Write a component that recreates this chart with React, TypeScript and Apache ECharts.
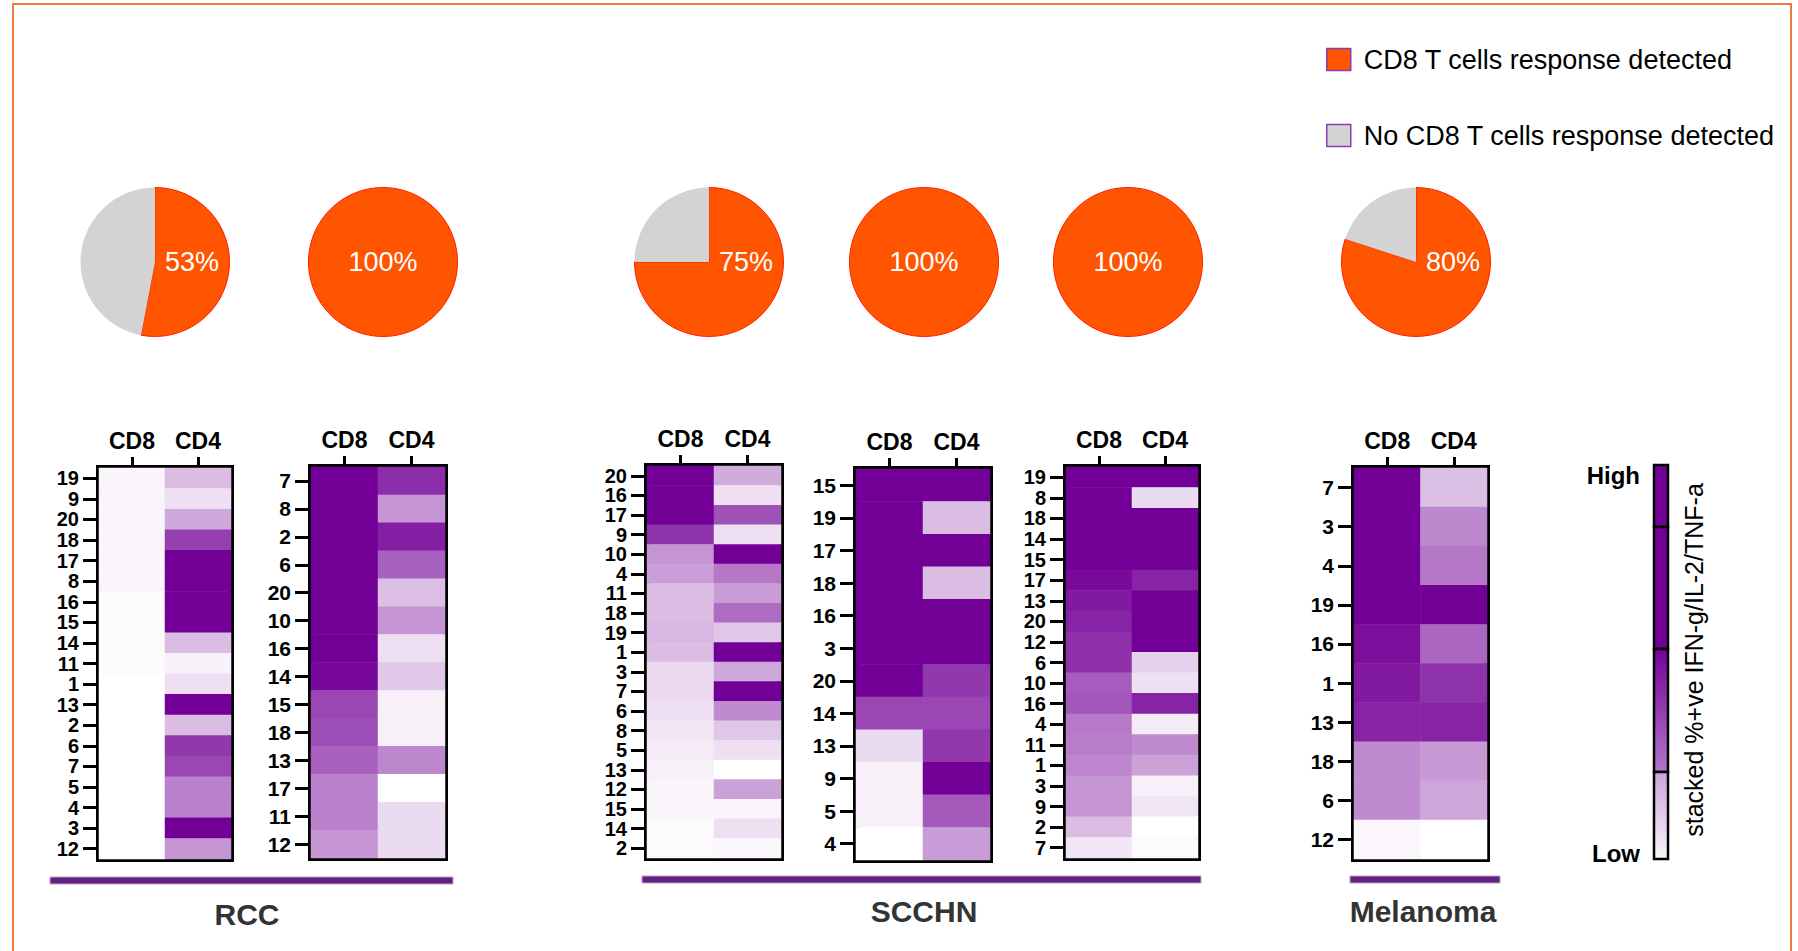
import React, { useEffect, useRef } from "react";
import * as echarts from "echarts";

// ---------- data ----------
const colCategories = ["CD8", "CD4"];

const rccALabels = ["19", "9", "20", "18", "17", "8", "16", "15", "14", "11", "1", "13", "2", "6", "7", "5", "4", "3", "12"];
const rccACD8 = [0.04, 0.04, 0.04, 0.04, 0.04, 0.04, 0.02, 0.02, 0.02, 0.02, 0, 0, 0, 0, 0, 0, 0, 0, 0];
const rccACD4 = [0.26, 0.12, 0.34, 0.75, 1, 1, 1, 1, 0.26, 0.05, 0.12, 1, 0.26, 0.78, 0.72, 0.5, 0.5, 1, 0.42];

const rccBLabels = ["7", "8", "2", "6", "20", "10", "16", "14", "15", "18", "13", "17", "11", "12"];
const rccBCD8 = [1, 1, 1, 1, 1, 1, 1, 0.97, 0.72, 0.7, 0.62, 0.5, 0.49, 0.41];
const rccBCD4 = [0.82, 0.41, 0.88, 0.62, 0.25, 0.41, 0.12, 0.22, 0.06, 0.06, 0.47, 0, 0.14, 0.14];

const scchnALabels = ["20", "16", "17", "9", "10", "4", "11", "18", "19", "1", "3", "7", "6", "8", "5", "13", "12", "15", "14", "2"];
const scchnACD8 = [1, 1, 1, 0.8, 0.42, 0.38, 0.26, 0.26, 0.28, 0.26, 0.15, 0.15, 0.12, 0.1, 0.08, 0.06, 0.04, 0.04, 0.02, 0.02];
const scchnACD4 = [0.33, 0.12, 0.68, 0.12, 1, 0.53, 0.39, 0.58, 0.22, 1, 0.34, 1, 0.46, 0.22, 0.12, 0, 0.37, 0.04, 0.12, 0.03];

const scchnBLabels = ["15", "19", "17", "18", "16", "3", "20", "14", "13", "9", "5", "4"];
const scchnBCD8 = [1, 1, 1, 1, 1, 1, 1, 0.72, 0.14, 0.06, 0.06, 0];
const scchnBCD4 = [1, 0.26, 1, 0.26, 1, 1, 0.78, 0.72, 0.78, 1, 0.65, 0.39];

const scchnCLabels = ["19", "8", "18", "14", "15", "17", "13", "20", "12", "6", "10", "16", "4", "11", "1", "3", "9", "2", "7"];
const scchnCCD8 = [1, 1, 1, 1, 1, 0.96, 0.9, 0.86, 0.81, 0.81, 0.64, 0.66, 0.52, 0.51, 0.48, 0.42, 0.42, 0.26, 0.1];
const scchnCCD4 = [1, 0.14, 1, 1, 1, 0.86, 1, 1, 1, 0.18, 0.12, 0.86, 0.08, 0.46, 0.37, 0.06, 0.1, 0, 0.02];

const melLabels = ["7", "3", "4", "19", "16", "1", "13", "18", "6", "12"];
const melCD8 = [1, 1, 1, 1, 0.94, 0.9, 0.86, 0.46, 0.46, 0.03];
const melCD4 = [0.25, 0.47, 0.53, 1, 0.6, 0.8, 0.86, 0.4, 0.35, 0];

const pieResponse = [53, 100, 75, 100, 100, 80];
const legendNames = ["CD8 T cells response detected", "No CD8 T cells response detected"];
const groupNames = ["RCC", "SCCHN", "Melanoma"];
const colorbarTitle = "stacked %+ve IFN-g/IL-2/TNF-a";

// ---------- layout ----------
const FONT = 'Arial, "Liberation Sans", Helvetica, sans-serif';

const panels = [
  { labels: rccALabels, cd8: rccACD8, cd4: rccACD4, grid: { left: 99, top: 468, width: 132, height: 391 }, fs: 20 },
  { labels: rccBLabels, cd8: rccBCD8, cd4: rccBCD4, grid: { left: 311, top: 467, width: 134, height: 391 }, fs: 21 },
  { labels: scchnALabels, cd8: scchnACD8, cd4: scchnACD4, grid: { left: 647, top: 466, width: 134, height: 392 }, fs: 20 },
  { labels: scchnBLabels, cd8: scchnBCD8, cd4: scchnBCD4, grid: { left: 856, top: 469, width: 134, height: 391 }, fs: 21 },
  { labels: scchnCLabels, cd8: scchnCCD8, cd4: scchnCCD4, grid: { left: 1066, top: 467, width: 132, height: 391 }, fs: 20 },
  { labels: melLabels, cd8: melCD8, cd4: melCD4, grid: { left: 1354, top: 468, width: 133, height: 391 }, fs: 21 },
];

const pieCentersX = [155, 383, 709, 924, 1128, 1416];
const pieCenterY = 262;
const pieRadius = 74.5;

const groupBars = [
  { x: 50, w: 403, y: 877, label: 247 },
  { x: 642, w: 559, y: 876, label: 924 },
  { x: 1350, w: 150, y: 876, label: 1423 },
];

function buildOption() {
  const grids = panels.map((p) => ({
    left: p.grid.left,
    top: p.grid.top,
    width: p.grid.width,
    height: p.grid.height,
    show: true,
    borderColor: "#000",
    borderWidth: 6,
    backgroundColor: "transparent",
    containLabel: false,
  }));

  const xAxes = panels.map((_, i) => ({
    type: "category",
    gridIndex: i,
    position: "top",
    data: colCategories,
    axisLine: { show: false },
    axisTick: { show: true, alignWithLabel: true, length: 11, lineStyle: { color: "#000", width: 3 } },
    axisLabel: { color: "#000", fontFamily: FONT, fontWeight: "bold", fontSize: 23, margin: 16 },
    splitLine: { show: false },
  }));

  const yAxes = panels.map((p, i) => ({
    type: "category",
    gridIndex: i,
    inverse: true,
    data: p.labels,
    axisLine: { show: false },
    axisTick: { show: true, alignWithLabel: true, length: 16, lineStyle: { color: "#000", width: 3 } },
    axisLabel: {
      color: "#000",
      fontFamily: FONT,
      fontWeight: "bold",
      fontSize: p.fs,
      lineHeight: Math.min(p.fs, 19),
      margin: 20,
      interval: 0,
    },
    splitLine: { show: false },
  }));

  const heatSeries = panels.map((p, i) => ({
    type: "heatmap",
    xAxisIndex: i,
    yAxisIndex: i,
    silent: true,
    data: p.labels.flatMap((_, r) => [
      [0, r, p.cd8[r]],
      [1, r, p.cd4[r]],
    ]),
  }));

  const pieSeries = pieResponse.map((pct, i) => ({
    type: "pie",
    center: [pieCentersX[i], pieCenterY],
    radius: pieRadius,
    startAngle: 90,
    clockwise: true,
    silent: true,
    avoidLabelOverlap: false,
    labelLine: { show: false },
    emphasis: { disabled: true },
    data: [
      {
        name: legendNames[0],
        value: pct,
        itemStyle: { color: "#ff5500", borderColor: "#ff1e00", borderWidth: 1 },
        label: {
          show: true,
          position: "center",
          formatter: "{c}%",
          color: "#ffffff",
          fontFamily: FONT,
          fontSize: 27,
          padding: pct < 100 ? [0, 0, 0, 74] : 0,
        },
      },
      {
        name: legendNames[1],
        value: 100 - pct,
        itemStyle: { color: "#d3d3d3", borderWidth: 0 },
        label: { show: false },
      },
    ],
  }));

  const graphics: any[] = [];
  // page frame
  graphics.push({
    type: "rect",
    silent: true,
    shape: { x: 13, y: 4, width: 1778, height: 1000 },
    style: { fill: "none", stroke: "#f07a3c", lineWidth: 2 },
  });
  // group bars and names
  groupBars.forEach((g, i) => {
    graphics.push({
      type: "rect",
      silent: true,
      shape: { x: g.x, y: g.y, width: g.w, height: 7 },
      style: { fill: "#63207e", stroke: "#bda3cb", lineWidth: 1 },
    });
    graphics.push({
      type: "text",
      silent: true,
      x: g.label,
      y: i === 0 ? 914 : 911,
      style: {
        text: groupNames[i],
        fill: "#333333",
        font: `bold 30px ${FONT}`,
        align: "center",
        verticalAlign: "middle",
      },
    });
  });
  // colorbar
  const cbX = 1654;
  const cbW = 14;
  const segs = [
    { y0: 465, y1: 527, fill: "#730096" as any },
    { y0: 527, y1: 649, fill: "#730096" as any },
    {
      y0: 649,
      y1: 772,
      fill: new echarts.graphic.LinearGradient(0, 0, 0, 1, [
        { offset: 0, color: "#750399" },
        { offset: 1, color: "#b277c8" },
      ]),
    },
    {
      y0: 772,
      y1: 859,
      fill: new echarts.graphic.LinearGradient(0, 0, 0, 1, [
        { offset: 0, color: "#caa3da" },
        { offset: 1, color: "#faf5fb" },
      ]),
    },
  ];
  segs.forEach((s) => {
    graphics.push({
      type: "rect",
      silent: true,
      shape: { x: cbX, y: s.y0, width: cbW, height: s.y1 - s.y0 },
      style: { fill: s.fill, stroke: "#000", lineWidth: 2.5 },
    });
  });
  graphics.push({
    type: "text",
    silent: true,
    x: 1640,
    y: 475,
    style: { text: "High", fill: "#000", font: `bold 24px ${FONT}`, align: "right", verticalAlign: "middle" },
  });
  graphics.push({
    type: "text",
    silent: true,
    x: 1640,
    y: 853,
    style: { text: "Low", fill: "#000", font: `bold 24px ${FONT}`, align: "right", verticalAlign: "middle" },
  });
  graphics.push({
    type: "text",
    silent: true,
    x: 1694,
    y: 660,
    rotation: Math.PI / 2,
    style: { text: colorbarTitle, fill: "#000", font: `25px ${FONT}`, align: "center", verticalAlign: "middle" },
  });

  return {
    animation: false,
    backgroundColor: "#ffffff",
    textStyle: { fontFamily: FONT },
    grid: grids,
    xAxis: xAxes,
    yAxis: yAxes,
    visualMap: {
      type: "continuous",
      show: false,
      min: 0,
      max: 1,
      seriesIndex: panels.map((_, i) => i),
      inRange: { color: ["#ffffff", "#730096"] },
    },
    legend: {
      data: legendNames,
      orient: "vertical",
      left: 1326,
      top: 46,
      padding: 0,
      itemWidth: 24,
      itemHeight: 22,
      itemGap: 49,
      icon: "rect",
      selectedMode: false,
      itemStyle: { borderColor: "#8a3cb0", borderWidth: 1.5 },
      textStyle: { color: "#000", fontFamily: FONT, fontSize: 27, padding: [0, 0, 0, 8] },
    },
    series: [...heatSeries, ...pieSeries],
    graphic: graphics,
  };
}

export default function App() {
  const ref = useRef<HTMLDivElement>(null);
  useEffect(() => {
    if (!ref.current) return;
    const chart = echarts.init(ref.current, null, { renderer: "svg", width: 1798, height: 951 });
    chart.setOption(buildOption() as any);
    return () => chart.dispose();
  }, []);
  return (
    <div
      ref={ref}
      style={{ position: "fixed", left: 0, top: 0, width: 1798, height: 951, background: "#fff" }}
    />
  );
}
